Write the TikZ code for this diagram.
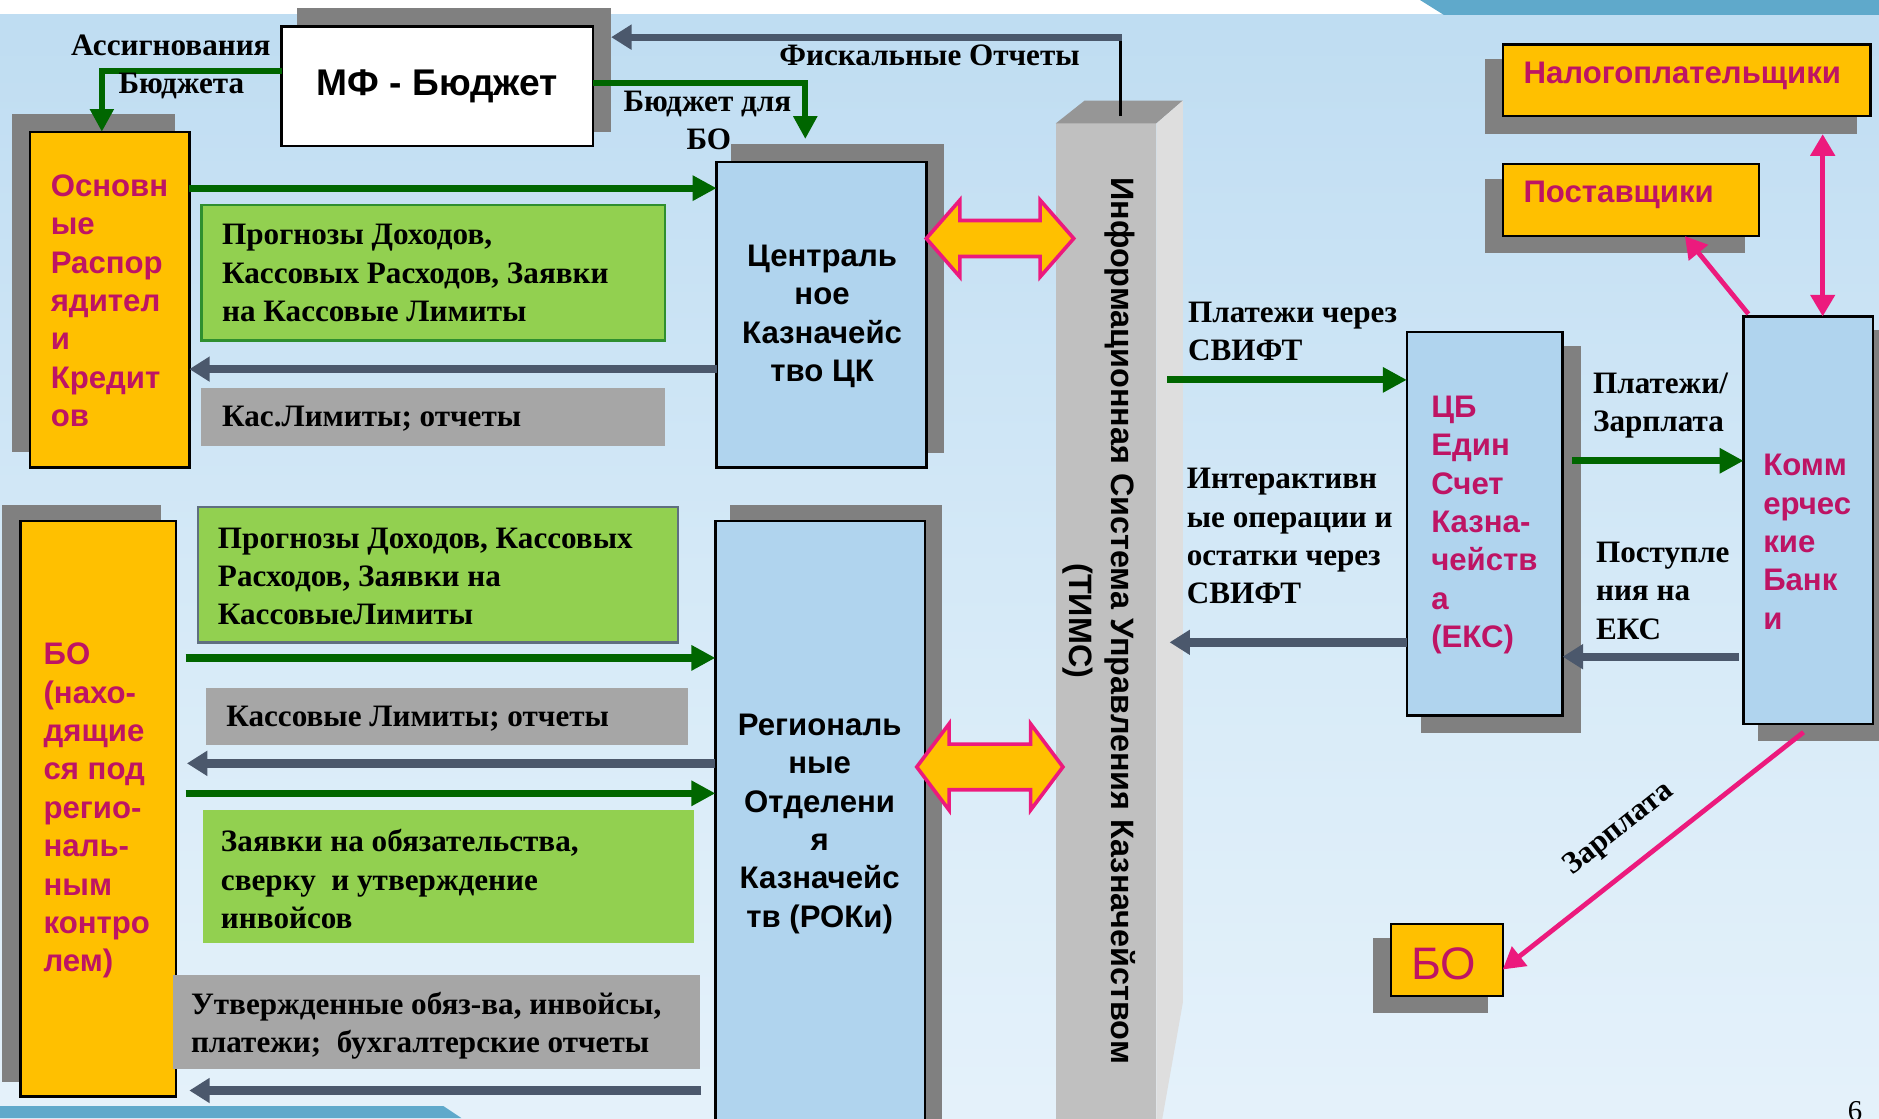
\documentclass[tikz,border=0pt]{standalone}
\usepackage{fontspec}
\setmainfont{Liberation Serif}
\setsansfont{Liberation Sans}
\usetikzlibrary{arrows.meta,fit,calc}
\definecolor{orangeC}{HTML}{FFC000}
\definecolor{magtext}{HTML}{BE1464}
\definecolor{lblue}{HTML}{B0D4EE}
\definecolor{shadowg}{HTML}{808080}
\definecolor{dgreen}{HTML}{006600}
\definecolor{slate}{HTML}{4B586C}
\definecolor{lgreen}{HTML}{92D050}
\definecolor{lgray}{HTML}{A6A6A6}
\definecolor{pinkA}{HTML}{EC1A7D}
\definecolor{gborder}{HTML}{2F8F2F}
\definecolor{gbordertwo}{HTML}{5F6F80}
\definecolor{timsfront}{HTML}{C0C0C0}
\definecolor{timstop}{HTML}{969696}
\definecolor{timsside}{HTML}{DEDEDE}
\definecolor{bgtop}{HTML}{A9D0EC}
\definecolor{bgmid}{HTML}{D8EBF8}
\definecolor{bgbot}{HTML}{F4F9FD}
\definecolor{tealC}{HTML}{5FA9CB}
\pgfdeclareverticalshading{bgshade}{100bp}{color(0bp)=(bgbot); color(45bp)=(bgmid); color(100bp)=(bgtop)}
\begin{document}
\begin{tikzpicture}[x=0.5pt,y=-0.5pt,
  box/.style={inner sep=0pt, outer sep=0pt, line width=1pt},
  obox/.style={box, fill=orangeC, draw=black},
  bbox/.style={box, fill=lblue, draw=black},
  wbox/.style={box, fill=white, draw=black},
  gbox/.style={box, fill=lgreen},
  grbox/.style={box, fill=lgray},
  shad/.style={box, fill=shadowg},
  serifL/.style={font=\rmfamily\bfseries\fontsize{13}{16}\selectfont, text=black, inner sep=0pt, align=left, anchor=west},
  sansM/.style={font=\sffamily\bfseries\fontsize{13}{16}\selectfont, text=magtext, inner sep=0pt, align=left, anchor=west},
  sansK/.style={font=\sffamily\bfseries\fontsize{13}{16}\selectfont, text=black, inner sep=0pt, align=center},
  garrow/.style={draw=dgreen, line width=3pt, -{Triangle[length=10pt,width=10pt]}},
  garrowT/.style={draw=dgreen, line width=2.5pt, -{Triangle[length=9.5pt,width=9.5pt]}},
  sarrow/.style={draw=slate, line width=3.5pt, -{Triangle[length=8.5pt,width=10pt]}},
  parrow/.style={draw=pinkA, line width=2pt, -{Triangle[length=9pt,width=10pt]}},
  pdarrow/.style={draw=pinkA, line width=2pt, {Triangle[length=9pt,width=10pt]}-{Triangle[length=9pt,width=10pt]}},
  fatarrow/.style={fill=orangeC, draw=pinkA, line width=1.5pt, line join=miter},
]
\useasboundingbox (0,0) rectangle (1568,933);
\clip (0,0) rectangle (1568,933);
% background
\shade[shading=bgshade] (0,0) rectangle (1568,933);
\fill[white] (0,0) rectangle (1568,12);
\fill[tealC] (1185,0) -- (1568,0) -- (1568,12.5) -- (1205,12.5) -- cycle;
\fill[tealC] (0,923) -- (370,923) -- (385,933) -- (0,933) -- cycle;
% shadows
\node[shad, fit={(248,7) (510,110)}] (mfs) {};
\node[shad, fit={(10,95) (146,377)}] (osns) {};
\node[shad, fit={(610,120) (788,378)}] (cks) {};
\node[shad, fit={(2,421) (134,903)}] (bos) {};
\node[shad, fit={(609,421) (786,945)}] (roks) {};
\node[shad, fit={(1239,49) (1550,112)}] (nals) {};
\node[shad, fit={(1239,149) (1456,211)}] (poss) {};
\node[shad, fit={(1186,289) (1319,612)}] (cbs) {};
\node[shad, fit={(1467,275) (1580,618)}] (kbs) {};
\node[shad, fit={(1146,783) (1242,845)}] (bos2) {};
% boxes
\node[wbox, fit={(235,22) (495,122)}] (mf) {};
\node[obox, fit={(25,110) (158,390)}] (osn) {};
\node[bbox, fit={(598,135) (773,390)}] (ck) {};
\node[gbox, draw=gborder, fit={(168,171) (555,284)}] (g1) {};
\node[grbox, fit={(168,324) (555,372)}] (gr1) {};
\node[obox, fit={(17,435) (147,915)}] (bo) {};
\node[bbox, fit={(597,435) (772,950)}] (rok) {};
\node[gbox, draw=gbordertwo, fit={(165,423) (566,536)}] (g2) {};
\node[grbox, fit={(172,574) (574,622)}] (gr2) {};
\node[gbox, fit={(169,676) (579,787)}] (g3) {};
\node[grbox, fit={(144,814) (584,892)}] (gr4) {};
\node[obox, fit={(1254,37) (1561,97)}] (nal) {};
\node[obox, fit={(1254,137) (1468,197)}] (pos) {};
\node[bbox, fit={(1174,277) (1304,597)}] (cb) {};
\node[bbox, fit={(1455,264) (1563,604)}] (kb) {};
\node[obox, fit={(1161,771) (1254,831)}] (bo2) {};
% TIMS pillar
\node[box, fill=timsfront, fit={(881,103) (965,950)}] (tims) {};
\fill[timstop] (tims.north west) -- (tims.north east) -- (987,84) -- (905,84) -- cycle;
\fill[timsside] (tims.north east) -- (987,84) -- (987,837) -- (967,950) -- (965,950) -- cycle;
% fat double arrows
\draw[fatarrow] (773,199) -- (801,167) -- (801,184) -- (868,184) -- (868,167) -- (896,199) -- (868,231) -- (868,214) -- (801,214) -- (801,231) -- cycle;
\draw[fatarrow] (765,640) -- (792,604) -- (792,621) -- (860,621) -- (860,604) -- (887,640) -- (860,676) -- (860,659) -- (792,659) -- (792,676) -- cycle;
% coordinates
\coordinate (asg) at (85,59);
\coordinate (bbo) at (672,69);
\coordinate (bbotip) at (672,116);
\coordinate (fk) at (935,31);
\coordinate (fkb) at (935,97);
\coordinate (r1) at (0,157);
\coordinate (r2) at (0,308);
\coordinate (r3) at (0,549);
\coordinate (r4) at (0,637);
\coordinate (r5) at (0,662);
\coordinate (r6) at (585,910);
\coordinate (r7) at (974,317);
\coordinate (r8) at (0,536);
\coordinate (r9) at (0,384.5);
\coordinate (r10) at (0,548);
\coordinate (p1) at (1521,0);
\coordinate (p2) at (1406,0);
\coordinate (p3) at (0,809);
% connectors
\draw[garrowT] (mf.west |- asg) -- (asg) -- (osn.north -| asg);
\draw[garrowT] (mf.east |- bbo) -- (bbo) -- (bbotip);
\draw[black, line width=1.5pt] (fkb) -- ($(fk)+(0,2)$);
\draw[sarrow, line width=3pt] ($(fk)+(1,0)$) -- (mfs.east |- fk);
\draw[garrow] (osn.east |- r1) -- (ck.west |- r1);
\draw[sarrow] (ck.west |- r2) -- (osn.east |- r2);
\draw[garrow] ($(bo.east |- r3)+(8,0)$) -- (rok.west |- r3);
\draw[sarrow] (rok.west |- r4) -- ($(bo.east |- r4)+(9,0)$);
\draw[garrow] ($(bo.east |- r5)+(8,0)$) -- (rok.west |- r5);
\draw[sarrow] (r6) -- ($(bo.east |- r6)+(11,0)$);
\draw[garrow] (r7) -- (cb.west |- r7);
\draw[sarrow] (cb.west |- r8) -- ($(tims.east |- r8)+(11,0)$);
\draw[garrow] ($(cb.east |- r9)+(8,0)$) -- (kb.west |- r9);
\draw[sarrow] ($(kb.west |- r10)+(-4,0)$) -- (cb.east |- r10);
\draw[pdarrow] (nals.south -| p1) -- (kb.north -| p1);
\draw[parrow] ($(kb.north west)+(4,-2)$) -- (pos.south -| p2);
\draw[parrow] ($(kb.south)+(-4,7)$) -- (bo2.east |- p3);
% texts in boxes
\node[font=\sffamily\bfseries\fontsize{15.5}{18}\selectfont, inner sep=0pt] (mft) at (mf.center) {МФ - Бюджет};
\node[sansM] (osnt) at (42,251) {Основн\\ые\\Распор\\ядител\\и\\Кредит\\ов};
\node[sansK] (ckt) at (686,264) {Централь\\ное\\Казначейс\\тво ЦК};
\node[sansM] (bot) at (36,676.5) {БО\\(нахо-\\дящие\\ся под\\регио-\\наль-\\ным\\контро\\лем)};
\node[sansK] (rokt) at (684,687.5) {Региональ\\ные\\Отделени\\я\\Казначейс\\тв (РОКи)};
\node[sansM] (cbt) at (1194,438) {ЦБ\\Един\\Счет\\Казна-\\чейств\\а\\(ЕКС)};
\node[sansM] (kbt) at (1471,452) {Комм\\ерчес\\кие\\Банк\\и};
\node[sansM] (nalt) at (1271,63) {Налогоплательщики};
\node[sansM] (post) at (1271,163) {Поставщики};
\node[font=\sffamily\fontsize{19}{22}\selectfont, text=magtext, inner sep=0pt] (bo2t) at (1205,804) {БО};
\node[font=\sffamily\bfseries\fontsize{13.5}{17.5}\selectfont, inner sep=0pt, align=center, rotate=-90] (timst) at (917.5,518) {Информационная Система Управления Казначейством\\(ТИМС)};
% serif labels
\node[serifL] (g1t) at (185,228) {Прогнозы Доходов,\\Кассовых Расходов, Заявки\\на Кассовые Лимиты};
\node[serifL] (gr1t) at (185,349) {Кас.Лимиты; отчеты};
\node[serifL] (g2t) at (181.5,481) {Прогнозы Доходов, Кассовых\\Расходов, Заявки на\\КассовыеЛимиты};
\node[serifL] (gr2t) at (188.5,600) {Кассовые Лимиты; отчеты};
\node[serifL] (g3t) at (184,733.5) {Заявки на обязательства,\\сверку\ \ и утверждение\\инвойсов};
\node[serifL] (gr4t) at (159,856) {Утвержденные обяз-ва, инвойсы,\\платежи;\ \ бухгалтерские отчеты};
\node[serifL] (asgt) at (59,56) {Ассигнования\\\hspace*{19.75pt}Бюджета};
\node[serifL] (bbot) at (520,100.5) {Бюджет для\\\hspace*{26.25pt}БО};
\node[serifL] (fkt) at (650,46) {Фискальные Отчеты};
\node[serifL] (swt) at (991,276.5) {Платежи через\\СВИФТ};
\node[serifL] (iot) at (990,447.5) {Интерактивн\\ые операции и\\остатки через\\СВИФТ};
\node[serifL] (pzt) at (1329,338.5) {Платежи/\\Зарплата};
\node[serifL] (pet) at (1331.5,493) {Поступле\\ния на\\ЕКС};
\node[serifL, anchor=center, rotate=38.5] (zlt) at (1351,692) {Зарплата};
\node[font=\rmfamily\fontsize{12}{14}\selectfont, inner sep=0pt, anchor=north] (pg) at (1548,919) {6};
\end{tikzpicture}
\end{document}
